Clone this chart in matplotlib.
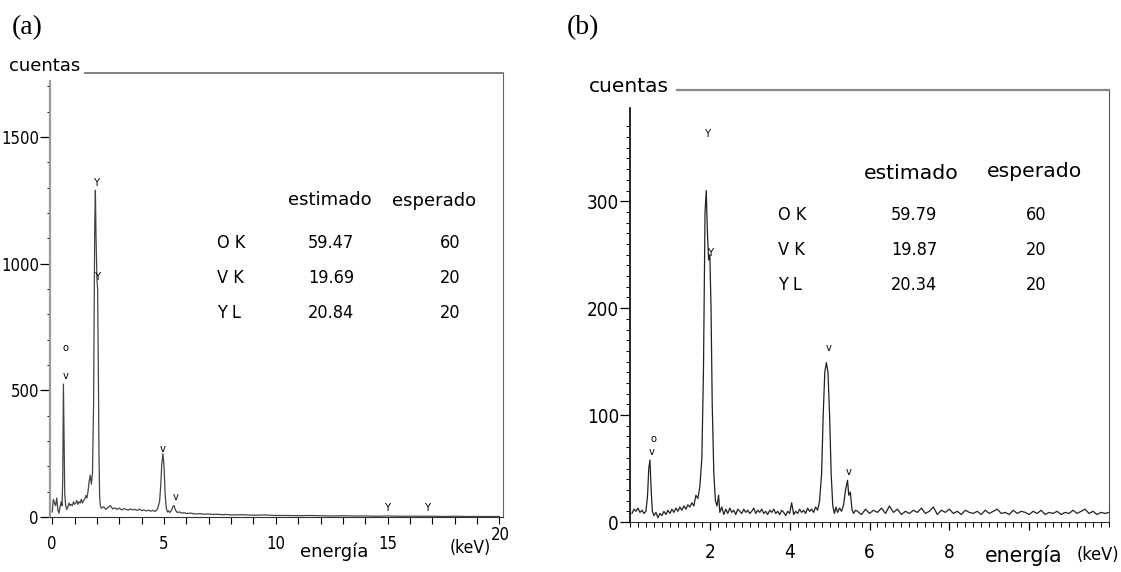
#!/usr/bin/env python3
"""
EDS spectra of the two samples, with the estimated vs expected composition tables.
"""
import matplotlib.pyplot as plt
from matplotlib.ticker import MultipleLocator, FixedLocator

# ---- data ----
energy_a = [0.00, 0.05, 0.10, 0.15, 0.20, 0.25, 0.30, 0.35, 0.40, 0.44, 0.47, 0.50,
            0.53, 0.56, 0.60, 0.65, 0.70, 0.75, 0.80, 0.85, 0.90, 0.95, 1.00, 1.05,
            1.10, 1.15, 1.20, 1.25, 1.30, 1.35, 1.40, 1.45, 1.50, 1.55, 1.60, 1.65,
            1.70, 1.75, 1.80, 1.85, 1.90, 1.93, 1.96, 2.00, 2.03, 2.06, 2.09, 2.12,
            2.15, 2.20, 2.30, 2.40, 2.50, 2.60, 2.70, 2.80, 2.90, 3.00, 3.10, 3.20,
            3.30, 3.40, 3.50, 3.60, 3.70, 3.80, 3.90, 4.00, 4.10, 4.20, 4.30, 4.40,
            4.50, 4.60, 4.70, 4.80, 4.85, 4.90, 4.95, 5.00, 5.05, 5.10, 5.15, 5.20,
            5.25, 5.30, 5.35, 5.40, 5.45, 5.50, 5.55, 5.60, 5.70, 5.80, 5.90, 6.00,
            6.20, 6.40, 6.60, 6.80, 7.00, 7.20, 7.40, 7.60, 7.80, 8.00, 8.50, 9.00,
            9.50, 10.0, 10.5, 11.0, 11.5, 12.0, 12.5, 13.0, 13.5, 14.0, 14.5, 15.0,
            15.5, 16.0, 16.5, 17.0, 17.5, 18.0, 18.5, 19.0, 19.5, 20.0]
counts_a = [20, 70, 55, 45, 75, 30, 15, 40, 60, 45, 150, 525,
            300, 90, 45, 30, 40, 55, 45, 50, 45, 60, 50, 55,
            65, 50, 60, 55, 70, 55, 65, 70, 85, 75, 100, 140,
            165, 130, 170, 450, 1150, 1290, 1100, 940, 900, 600, 250, 80,
            45, 35, 40, 30, 38, 45, 32, 36, 30, 35, 28, 33,
            30, 27, 32, 28, 30, 26, 31, 25, 28, 24, 27, 23,
            26, 22, 30, 60, 120, 210, 250, 200, 90, 35, 20, 25,
            18, 22, 30, 42, 45, 30, 22, 18, 20, 15, 17, 14,
            15, 12, 13, 11, 12, 10, 11, 9, 10, 8, 9, 7,
            8, 6, 6, 5, 6, 5, 4, 5, 4, 4, 3, 4,
            3, 3, 3, 3, 2, 3, 2, 2, 2, 2]

energy_b = [0.05, 0.10, 0.15, 0.20, 0.25, 0.30, 0.35, 0.40, 0.44, 0.47, 0.50, 0.53,
            0.56, 0.60, 0.65, 0.70, 0.75, 0.80, 0.85, 0.90, 0.95, 1.00, 1.05, 1.10,
            1.15, 1.20, 1.25, 1.30, 1.35, 1.40, 1.45, 1.50, 1.55, 1.60, 1.65, 1.70,
            1.75, 1.80, 1.84, 1.88, 1.91, 1.94, 1.97, 2.00, 2.03, 2.06, 2.10, 2.14,
            2.18, 2.22, 2.25, 2.30, 2.35, 2.40, 2.45, 2.50, 2.55, 2.60, 2.65, 2.70,
            2.75, 2.80, 2.85, 2.90, 2.95, 3.00, 3.05, 3.10, 3.15, 3.20, 3.25, 3.30,
            3.35, 3.40, 3.45, 3.50, 3.55, 3.60, 3.65, 3.70, 3.75, 3.80, 3.85, 3.90,
            3.95, 4.00, 4.05, 4.10, 4.15, 4.20, 4.25, 4.30, 4.35, 4.40, 4.45, 4.50,
            4.55, 4.60, 4.65, 4.70, 4.75, 4.80, 4.84, 4.88, 4.92, 4.96, 5.00, 5.04,
            5.08, 5.12, 5.16, 5.20, 5.25, 5.30, 5.35, 5.40, 5.45, 5.48, 5.52, 5.56,
            5.60, 5.65, 5.70, 5.80, 5.90, 6.00, 6.10, 6.20, 6.30, 6.40, 6.50, 6.60,
            6.70, 6.80, 6.90, 7.00, 7.10, 7.20, 7.30, 7.40, 7.50, 7.60, 7.70, 7.80,
            7.90, 8.00, 8.10, 8.20, 8.30, 8.40, 8.50, 8.60, 8.70, 8.80, 8.90, 9.00,
            9.10, 9.20, 9.30, 9.40, 9.50, 9.60, 9.70, 9.80, 9.90, 10.0, 10.1, 10.2,
            10.3, 10.4, 10.5, 10.6, 10.7, 10.8, 10.9, 11.0, 11.1, 11.2, 11.3, 11.4,
            11.5, 11.6, 11.7, 11.8, 11.9, 12.0]
counts_b = [8, 12, 10, 13, 9, 11, 8, 10, 25, 50, 58, 30,
            10, 6, 9, 4, 8, 6, 10, 7, 11, 8, 12, 9,
            13, 10, 14, 11, 15, 12, 16, 14, 18, 15, 25, 22,
            33, 60, 140, 290, 310, 270, 245, 250, 200, 110, 45, 20,
            15, 25, 9, 14, 7, 12, 8, 13, 9, 11, 7, 12,
            10, 8, 12, 9, 11, 8, 10, 13, 8, 11, 9, 12,
            8, 10, 7, 11, 9, 12, 8, 10, 7, 11, 9, 6,
            10, 8, 18, 7, 10, 8, 12, 9, 11, 8, 13, 10,
            12, 9, 14, 11, 20, 45, 100, 140, 149, 140, 100, 45,
            15, 8, 14, 9, 13, 10, 16, 30, 39, 25, 28, 12,
            8, 11, 10, 7, 12, 8, 11, 9, 13, 8, 15, 9,
            12, 7, 10, 8, 11, 9, 13, 8, 10, 14, 7, 11,
            9, 12, 8, 10, 7, 11, 9, 8, 10, 7, 11, 8,
            10, 12, 8, 9, 7, 11, 8, 10, 9, 7, 10, 8,
            11, 7, 9, 8, 10, 7, 9, 8, 11, 8, 10, 12,
            8, 10, 7, 9, 8, 9]

# peak markers: (energy, counts, symbol)
marks_a = [(0.61, 667, 'o'), (0.61, 557, 'v'), (2.00, 1319, 'Y'), (2.04, 947, 'Y'),
           (4.96, 268, 'v'), (5.53, 79, 'v'), (15.0, 36, 'Y'), (16.8, 36, 'Y')]
marks_b = [(0.58, 78, 'o'), (0.55, 65, 'v'), (1.95, 363, 'Y'), (2.03, 252, 'Y'),
           (4.98, 163, 'v'), (5.48, 47, 'v')]

lines = ['O K', 'V K', 'Y L']
esperado = ['60', '20', '20']
estimado_a = ['59.47', '19.69', '20.84']
estimado_b = ['59.79', '19.87', '20.34']

# ---- layout helpers (pixel positions of the 1121x572 reference) ----
W, H = 1121, 572
NARROW = dict(family='DejaVu Sans', stretch='condensed')
HAND = dict(family='DejaVu Sans')
SERIF = dict(family=['Liberation Serif', 'DejaVu Serif'])

fig = plt.figure(figsize=(W / 100, H / 100), dpi=100)


def box(x0, y0, x1, y1):
    return [x0 / W, 1 - y1 / H, (x1 - x0) / W, (y1 - y0) / H]


def ftext(x, y, s, font, **kw):
    fig.text(x / W, 1 - y / H, s, **font, **kw)


# ---- panel (a) ----
ax = fig.add_axes(box(50, 73, 503, 517))
ax.plot(energy_a, counts_a, color='#444444', lw=0.9)
ax.set_xlim(-0.1, 20.16)
ax.set_ylim(0, 1753)
ax.xaxis.set_minor_locator(MultipleLocator(1))
ax.yaxis.set_major_locator(MultipleLocator(500))
ax.yaxis.set_minor_locator(FixedLocator(list(range(0, 1800, 100))))
ax.set_xticks([0, 5, 10, 15, 20])
ax.set_xticklabels(['0', '5', '10', '15', ''])
ax.tick_params(axis='x', which='both', direction='out', length=5, width=0.8, pad=8)
ax.tick_params(axis='y', which='major', direction='out', length=7, width=0.9, pad=1)
ax.tick_params(axis='y', which='minor', direction='out', length=2, width=0.7)
for lab in ax.get_xticklabels() + ax.get_yticklabels():
    lab.set_family(NARROW['family'])
    lab.set_stretch('condensed')
    lab.set_fontsize(12)
ax.spines['left'].set_color('#999999')
ax.spines['left'].set_linewidth(1.6)
ax.spines['left'].set_bounds(0, 1720)
ax.spines['top'].set_bounds(1.46, 20.16)
ax.spines['top'].set_color('#777777')
ax.spines['top'].set_linewidth(1.3)
ax.spines['right'].set_color('#666666')
ax.spines['bottom'].set_color('#333333')
for e, c, s in marks_a:
    ax.text(e, c, s, ha='center', va='center', fontsize=8, **NARROW)
ax.text(20.05, -70, '20', ha='center', va='center', fontsize=12, **NARROW)

# ---- panel (b) ----
bx = fig.add_axes(box(630, 90, 1109, 522))
bx.plot(energy_b, counts_b, color='#222222', lw=0.9)
bx.set_xlim(0, 12)
bx.set_ylim(0, 404)
bx.set_xticks([2, 4, 6, 8, 10])
bx.set_xticklabels(['2', '4', '6', '8', ''])
bx.xaxis.set_minor_locator(MultipleLocator(0.2))
bx.set_yticks([0, 100, 200, 300])
bx.yaxis.set_minor_locator(FixedLocator(list(range(0, 380, 10))))
bx.tick_params(axis='x', which='major', direction='out', length=6, width=0.9, pad=9)
bx.tick_params(axis='x', which='minor', direction='out', length=3.5, width=0.7)
bx.tick_params(axis='y', which='major', direction='out', length=7, width=0.9, pad=1)
bx.tick_params(axis='y', which='minor', direction='out', length=3, width=0.7)
for lab in bx.get_xticklabels() + bx.get_yticklabels():
    lab.set_family(NARROW['family'])
    lab.set_stretch('condensed')
    lab.set_fontsize(13.5)
bx.spines['left'].set_bounds(0, 387)
bx.spines['left'].set_linewidth(1.2)
bx.spines['top'].set_bounds(1.18, 12)
bx.spines['top'].set_color('#888888')
bx.spines['top'].set_linewidth(1.6)
bx.spines['right'].set_color('#555555')
bx.spines['bottom'].set_color('#333333')
for e, c, s in marks_b:
    bx.text(e, c, s, ha='center', va='center', fontsize=8, **NARROW)

# ---- panel letters, axis titles ----
ftext(12, 28, '(a)', SERIF, fontsize=20, va='center')
ftext(567, 28, '(b)', SERIF, fontsize=20, va='center')
ftext(9, 66, 'cuentas', HAND, fontsize=13, va='center')
ftext(589, 86, 'cuentas', HAND, fontsize=14.5, va='center')
ftext(334, 552, 'energía', HAND, fontsize=13, va='center', ha='center')
ftext(450, 548, '(keV)', NARROW, fontsize=12.5, va='center')
ftext(1024, 556, 'energía', HAND, fontsize=14.8, va='center', ha='center')
ftext(1119, 555, '(keV)', NARROW, fontsize=13, va='center', ha='right')

# ---- composition tables ----
ftext(330, 200, 'estimado', HAND, fontsize=13, va='center', ha='center')
ftext(434, 201, 'esperado', HAND, fontsize=13, va='center', ha='center')
for i, (ln, est, esp) in enumerate(zip(lines, estimado_a, esperado)):
    y = 243 + 35 * i
    ftext(217, y, ln, NARROW, fontsize=13, va='center')
    ftext(331, y, est, NARROW, fontsize=13, va='center', ha='center')
    ftext(450, y, esp, NARROW, fontsize=13, va='center', ha='center')

ftext(911, 173, 'estimado', HAND, fontsize=14.7, va='center', ha='center')
ftext(1034, 172, 'esperado', HAND, fontsize=14.7, va='center', ha='center')
for i, (ln, est, esp) in enumerate(zip(lines, estimado_b, esperado)):
    y = 215 + 35 * i
    ftext(778, y, ln, NARROW, fontsize=13, va='center')
    ftext(914, y, est, NARROW, fontsize=13, va='center', ha='center')
    ftext(1036, y, esp, NARROW, fontsize=13, va='center', ha='center')

fig.savefig('out.png', dpi=100)
